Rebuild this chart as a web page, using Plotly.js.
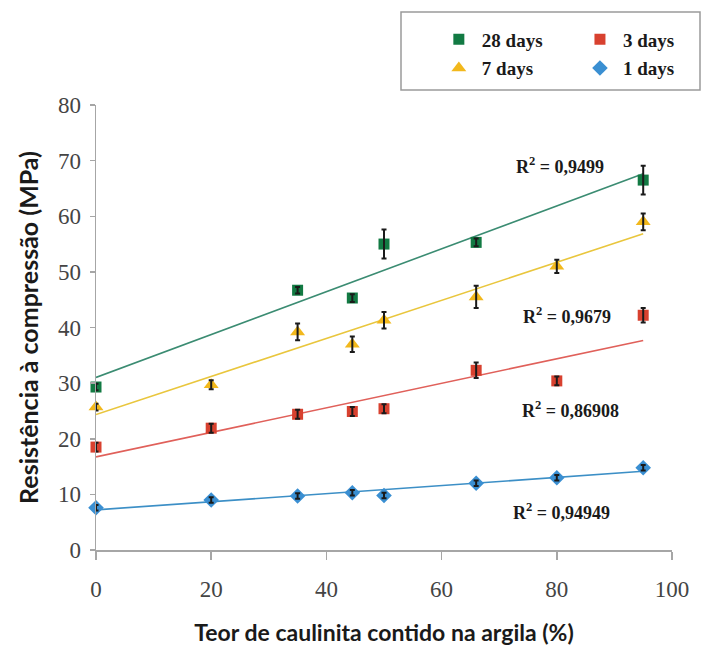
<!DOCTYPE html>
<html>
<head>
<meta charset="utf-8">
<script src="https://cdn.plot.ly/plotly-3.0.1.min.js"></script>
<style>html,body{margin:0;padding:0;background:#fff;}#chart{width:716px;height:646px;}</style>
</head>
<body>
<div id="chart"></div>
<script>
// ---- data ----
const seriesNames = ['28 days', '7 days', '3 days', '1 days'];
const x28 = [0, 35, 44.5, 50, 66, 95];
const y28 = [29.3, 46.7, 45.3, 55.0, 55.3, 66.5];
const e28 = [0.6, 0.6, 0.7, 2.6, 0.7, 2.6];
const x7 = [0, 20, 35, 44.5, 50, 66, 80, 95];
const y7 = [25.7, 29.7, 39.2, 37.0, 41.3, 45.5, 51.0, 59.0];
const e7 = [0.6, 0.8, 1.5, 1.4, 1.5, 2.0, 1.2, 1.5];
const x3 = [0, 20, 35, 44.5, 50, 66, 80, 95];
const y3 = [18.5, 21.9, 24.4, 24.9, 25.4, 32.3, 30.4, 42.2];
const e3 = [0.8, 0.8, 0.8, 0.8, 0.8, 1.4, 0.8, 1.3];
const x1 = [0, 20, 35, 44.5, 50, 66, 80, 95];
const y1 = [7.6, 9.0, 9.7, 10.3, 9.8, 12.0, 13.0, 14.8];
const e1 = [0.5, 0.5, 0.5, 0.5, 0.5, 0.5, 0.5, 0.5];
const r2Labels = ['0,9499', '0,9679', '0,86908', '0,94949'];
const xTicks = [0, 20, 40, 60, 80, 100];
const yTicks = [0, 10, 20, 30, 40, 50, 60, 70, 80];

// ---- styles ----
const markerColors = ['#127a43', '#f2b81c', '#d8412f', '#3a8fd2'];
const lineColors = ['#3b8c72', '#e9c63d', '#e0605a', '#3c8fc6'];
const symbols = ['square', 'triangle-up', 'square', 'diamond'];
const msizes = [11, 13, 11, 12];
const legendIds = ['legend', 'legend', 'legend2', 'legend2'];

const xs = [x28, x7, x3, x1], ys = [y28, y7, y3, y1], es = [e28, e7, e3, e1];

function fit(x, y) {
  const n = x.length;
  const mx = x.reduce((a, b) => a + b, 0) / n;
  const my = y.reduce((a, b) => a + b, 0) / n;
  let sxy = 0, sxx = 0;
  for (let i = 0; i < n; i++) { sxy += (x[i] - mx) * (y[i] - my); sxx += (x[i] - mx) ** 2; }
  const b = sxy / sxx;
  return { a: my - b * mx, b: b };
}

const traces = [];
// trend lines
for (let k = 0; k < 4; k++) {
  const f = fit(xs[k], ys[k]);
  const xmin = Math.min(...xs[k]), xmax = Math.max(...xs[k]);
  traces.push({
    x: [xmin, xmax], y: [f.a + f.b * xmin, f.a + f.b * xmax],
    mode: 'lines', line: { color: lineColors[k], width: 1.6 },
    showlegend: false, hoverinfo: 'skip'
  });
}
// markers
for (let k = 0; k < 4; k++) {
  traces.push({
    x: xs[k], y: ys[k], name: seriesNames[k], mode: 'markers', cliponaxis: false,
    marker: { symbol: symbols[k], size: msizes[k], color: markerColors[k], line: { width: 0 } },
    legend: legendIds[k], legendgroup: 'g' + k
  });
}
// error bars on top
for (let k = 0; k < 4; k++) {
  traces.push({
    x: xs[k], y: ys[k], mode: 'markers', cliponaxis: false, marker: { size: 2, opacity: 0 },
    error_y: { type: 'data', array: es[k], visible: true, color: '#1a1a1a', thickness: 2, width: 2.5 },
    showlegend: false, hoverinfo: 'skip'
  });
}

// R² annotations
const annX = [80.6, 81.8, 82.3, 80.9];
const annY = [69.2, 42.2, 25.3, 7.0];
const annotations = r2Labels.map((t, i) => ({
  x: annX[i], y: annY[i], xref: 'x', yref: 'y', showarrow: false,
  text: 'R<sup>2</sup> = ' + t,
  font: { family: 'Liberation Serif', size: 18, color: '#1a1a1a', weight: 'bold' }
}));

const legendFont = { family: 'Liberation Serif', size: 19, color: '#1a1a1a', weight: 'bold' };
const tickFont = { family: 'Liberation Serif', size: 23, color: '#444' };

const layout = {
  width: 716, height: 646,
  margin: { l: 96, r: 44, t: 105, b: 96 },
  paper_bgcolor: '#ffffff', plot_bgcolor: '#ffffff',
  showlegend: true,
  xaxis: {
    range: [0, 100], tickvals: xTicks, ticktext: xTicks.map(String),
    showgrid: false, zeroline: false, showline: true, linecolor: '#a6a6a6', linewidth: 1.5,
    ticks: 'outside', ticklen: 8, tickwidth: 1.5, tickcolor: '#a6a6a6',
    tickfont: tickFont, ticklabelstandoff: 10,
    title: { text: 'Teor de caulinita contido na argila (%)', font: { family: 'Lato', size: 23, color: '#1a1a1a', weight: 'bold' }, standoff: 25 }
  },
  yaxis: {
    range: [0, 80], tickvals: yTicks, ticktext: yTicks.map(String),
    showgrid: false, zeroline: false, showline: true, linecolor: '#a6a6a6', linewidth: 1.5,
    ticks: 'outside', ticklen: 5, tickwidth: 1.5, tickcolor: '#a6a6a6',
    tickfont: tickFont, ticklabelstandoff: 4,
    title: { text: 'Resistência à compressão (MPa)', font: { family: 'Lato', size: 25, color: '#1a1a1a', weight: 'bold' }, standoff: 12 }
  },
  legend: {
    x: 0.59, y: 1.19, xanchor: 'left', yanchor: 'top', orientation: 'v',
    bgcolor: 'rgba(0,0,0,0)', borderwidth: 0, font: legendFont, itemwidth: 36,
    traceorder: 'grouped', tracegroupgap: 1
  },
  legend2: {
    x: 0.835, y: 1.19, xanchor: 'left', yanchor: 'top', orientation: 'v',
    bgcolor: 'rgba(0,0,0,0)', borderwidth: 0, font: legendFont, itemwidth: 36,
    traceorder: 'grouped', tracegroupgap: 1
  },
  shapes: [{
    type: 'rect', xref: 'paper', yref: 'paper',
    x0: (401 - 96) / 576, x1: (700 - 96) / 576, y0: (550 - 90) / 445, y1: (550 - 12) / 445,
    line: { color: '#9a9a9a', width: 1.5 }, fillcolor: 'rgba(0,0,0,0)'
  }],
  annotations: annotations
};

Plotly.newPlot('chart', traces, layout, { staticPlot: true, displayModeBar: false });
</script>
</body>
</html>
